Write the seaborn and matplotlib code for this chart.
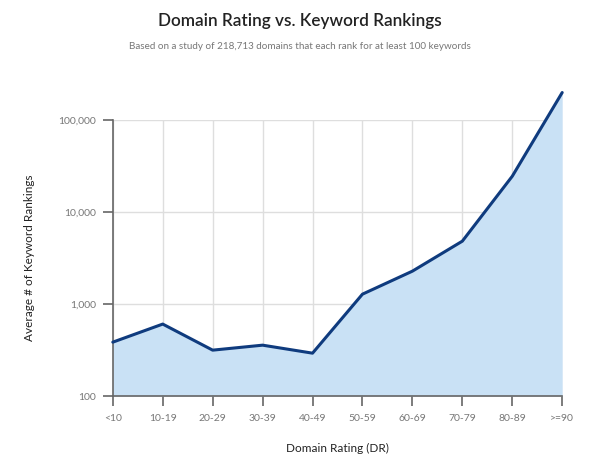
import matplotlib
matplotlib.use("Agg")
import matplotlib.pyplot as plt
import matplotlib.ticker as mticker
import seaborn as sns
import pandas as pd
import numpy as np

categories = ["<10", "10-19", "20-29", "30-39", "40-49", "50-59", "60-69", "70-79", "80-89", ">=90"]
rankings = [386, 607, 316, 358, 293, 1284, 2284, 4840, 24600, 200000]
y_ticks = [100, 1000, 10000, 100000]
y_tick_labels = ["100", "1,000", "10,000", "100,000"]

df = pd.DataFrame({"cat": categories, "val": rankings, "pos": np.arange(len(categories))})

sns.set_theme(style="white")
plt.rcParams["font.family"] = ["Lato", "DejaVu Sans"]

fig = plt.figure(figsize=(6, 4.66), dpi=100)
ax = fig.add_axes([0.188, 0.150, 0.749, 0.592])

line_color = "#0f3b7e"
fill_color = "#c9e1f5"

ax.fill_between(df["pos"], 100, df["val"], color=fill_color, lw=0, clip_on=False, zorder=1)
sns.lineplot(data=df, x="pos", y="val", ax=ax, color=line_color, lw=2.2, clip_on=False, zorder=3)

ax.set_yscale("log")
ax.set_ylim(100, 100000)
ax.set_xlim(0, len(categories) - 1)
ax.set_yticks(y_ticks)
ax.set_yticklabels(y_tick_labels)
ax.yaxis.set_minor_locator(mticker.NullLocator())
ax.set_xticks(df["pos"])
ax.set_xticklabels(categories)

ax.grid(True, color="#dedede", lw=1, zorder=0)
ax.set_axisbelow(True)
for s in ["top", "right"]:
    ax.spines[s].set_visible(False)
for s in ["left", "bottom"]:
    ax.spines[s].set_color("#666666")
    ax.spines[s].set_linewidth(1.2)
ax.tick_params(axis="both", which="major", direction="out", length=7, width=1.2,
               bottom=True, left=True,
               color="#666666", labelcolor="#777777", labelsize=7.5, pad=5)
ax.tick_params(axis="x", pad=6)

ax.set_xlabel("Domain Rating (DR)", fontsize=8.5, color="#222222", labelpad=14)
ax.set_ylabel("Average # of Keyword Rankings", fontsize=8.5, color="#222222", labelpad=17)

fig.text(0.5, 0.955, "Domain Rating vs. Keyword Rankings", ha="center", va="center",
         fontsize=12.3, color="#222222", fontweight="semibold")
fig.text(0.5, 0.900, "Based on a study of 218,713 domains that each rank for at least 100 keywords",
         ha="center", va="center", fontsize=7.1, color="#777777")

fig.savefig("out.png", dpi=100)
